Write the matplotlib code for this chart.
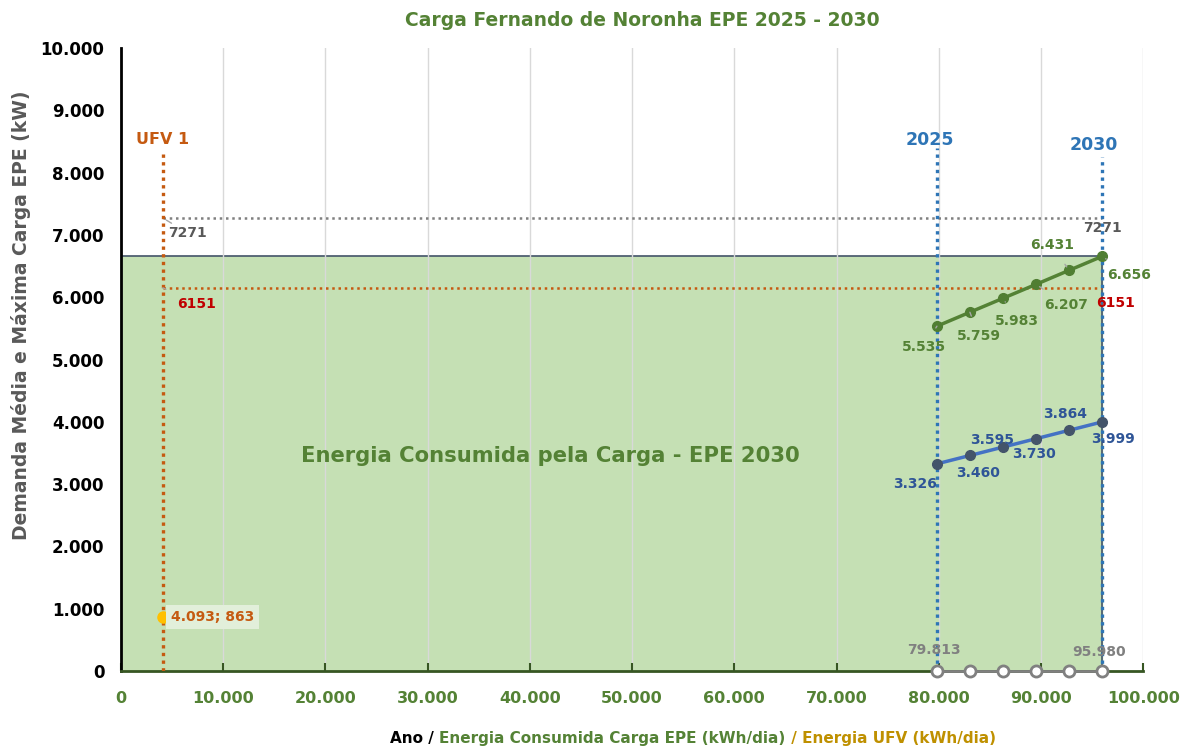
import matplotlib.pyplot as plt

plt.rcParams['font.family'] = ['DejaVu Sans']
plt.rcParams['font.weight'] = 'bold'

# dados (ano 2025 - 2030)
anos = ['2025', '2026', '2027', '2028', '2029', '2030']
energia = [79813, 83040, 86280, 89520, 92736, 95980]      # kWh/dia
dem_max = [5535, 5759, 5983, 6207, 6431, 6656]             # kW
dem_med = [3326, 3460, 3595, 3730, 3864, 3999]             # kW
ufv_x, ufv_y = 4093, 863
lim_sup = 7271
lim_inf = 6151

GREEN = '#548235'
BLUE = '#4472c4'
ORANGE = '#c55a11'
GRAY = '#808080'

fig = plt.figure(figsize=(11.86, 7.49), dpi=100)
ax = fig.add_axes([0.102, 0.104, 0.862, 0.832])
ax.set_xlim(0, 100000)
ax.set_ylim(0, 10000)

# area da energia consumida
ax.fill_between([0, energia[-1]], 0, dem_max[-1], color='#c5e0b4', zorder=0.3)
ax.plot([0, energia[-1], energia[-1]], [dem_max[-1], dem_max[-1], 0], color='#44546a', lw=1.2, zorder=0.4)

ax.set_xticks(range(0, 100001, 10000))
ax.set_yticks(range(0, 10001, 1000))
ax.grid(axis='x', color='#d9d9d9', lw=1, zorder=0.5)
ax.set_axisbelow(True)
fmt = lambda v: '{:,}'.format(int(v)).replace(',', '.')
ax.set_xticklabels([fmt(v) for v in range(0, 100001, 10000)], color=GREEN, fontsize=11.5)
ax.set_yticklabels([fmt(v) for v in range(0, 10001, 1000)], color='black', fontsize=12)
ax.tick_params(axis='x', direction='in', length=6, width=1.5, color='#375623', pad=14)
ax.tick_params(axis='y', length=0, pad=12)
for s in ['top', 'right']:
    ax.spines[s].set_visible(False)
ax.spines['left'].set_linewidth(2)
ax.spines['left'].set_color('black')
ax.spines['bottom'].set_linewidth(2)
ax.spines['bottom'].set_color('#375623')

# linhas verticais dos anos e UFV
dots = (0, (1, 1.3))
ax.plot([energia[0], energia[0]], [0, 8400], color='#2e75b6', lw=2.4, ls=dots, zorder=3)
ax.plot([energia[-1], energia[-1]], [0, 8250], color='#2e75b6', lw=2.4, ls=dots, zorder=3)
ax.annotate(anos[0], (energia[0], 8530), xytext=(-7, 0), textcoords='offset pixels',
            color='#2e75b6', fontsize=12.5, ha='center', va='center')
ax.annotate(anos[-1], (energia[-1], 8450), xytext=(-8, 0), textcoords='offset pixels',
            color='#2e75b6', fontsize=12.5, ha='center', va='center')
ax.plot([ufv_x, ufv_x], [0, 8300], color=ORANGE, lw=2.4, ls=dots, zorder=3)
ax.text(ufv_x, 8530, 'UFV 1', color=ORANGE, fontsize=11.5, ha='center', va='center')

# limites horizontais
ax.plot([ufv_x, energia[-1]], [lim_sup, lim_sup], color=GRAY, lw=1.8, ls=(0, (1, 1.5)), zorder=2)
ax.plot([ufv_x, energia[-1]], [lim_inf, lim_inf], color=ORANGE, lw=1.8, ls=(0, (1, 1.5)), zorder=2)

def lab(x, y, txt, dx, dy, color, lead=True, **kw):
    ax.annotate(txt, (x, y), xytext=(dx, dy), textcoords='offset pixels', color=color,
                fontsize=10, ha='center', va='center', zorder=6,
                arrowprops=dict(arrowstyle='-', color='#a6a6a6', lw=1, shrinkA=8, shrinkB=3) if lead else None, **kw)

lab(ufv_x, lim_sup, str(lim_sup), 25, -15, '#595959')
lab(energia[-1], lim_sup, str(lim_sup), 0, -10, '#595959', lead=False)
lab(ufv_x, lim_inf, str(lim_inf), 34, -16, '#c00000')
lab(energia[-1], lim_inf, str(lim_inf), 13, -15, '#c00000', lead=False)

# series
ax.plot(energia, dem_max, color=GREEN, lw=2.5, marker='o', ms=7, mfc='#507e32', mec='#507e32', zorder=5)
ax.plot(energia, dem_med, color=BLUE, lw=2.5, marker='o', ms=7, mfc='#44546a', mec='#44546a', zorder=5)
ax.plot(energia, [0] * len(energia), color=GRAY, lw=2, marker='o', ms=8, mfc='white', mec=GRAY, mew=2,
        zorder=5, clip_on=False)

off_max = [(-13, -21), (9, -24), (14, -23), (30, -21), (-17, 25), (27, -19)]
off_med = [(-22, -20), (8, -18), (-11, 7), (-2, -15), (-4, 16), (11, -17)]
for x, y, (dx, dy) in zip(energia, dem_max, off_max):
    lab(x, y, fmt(y), dx, dy, GREEN)
for x, y, (dx, dy) in zip(energia, dem_med, off_med):
    lab(x, y, fmt(y), dx, dy, '#2f5597', lead=False)
lab(energia[0], 0, fmt(energia[0]), -3, 21, GRAY, lead=False)
lab(energia[-1], 0, fmt(energia[-1]), -3, 19, GRAY, lead=False)

# ponto UFV
ax.plot(ufv_x, ufv_y, 'o', color='#ffc000', ms=8, zorder=6)
lab(ufv_x, ufv_y, '4.093; 863', 50, 0, ORANGE, lead=False,
    bbox=dict(boxstyle='square,pad=0.35', fc='#e2efda', ec='none'))

ax.text(42000, 3450, 'Energia Consumida pela Carga - EPE 2030', color=GREEN, fontsize=15.2,
        ha='center', va='center', zorder=6)

ax.set_ylabel('Demanda Média e Máxima Carga EPE (kW)', color='#595959', fontsize=13.5, fontweight='bold')
ax.yaxis.set_label_coords(-0.088, 0.571)
fig.text(0.542, 0.973, 'Carga Fernando de Noronha EPE 2025 - 2030', color=GREEN, fontsize=13.5,
         ha='center', va='center')

# titulo do eixo x em tres cores
parts = [('Ano / ', 'black'), ('Energia Consumida Carga EPE (kWh/dia)', GREEN),
         (' / Energia UFV (kWh/dia)', '#bf9000')]
fig.canvas.draw()
r = fig.canvas.get_renderer()
texts = [fig.text(0, 0.014, t, color=c, fontsize=11, va='center') for t, c in parts]
widths = [t.get_window_extent(r).width for t in texts]
x0 = 693 - sum(widths) / 2
for t, w in zip(texts, widths):
    t.set_x(x0 / fig.bbox.width)
    x0 += w

fig.savefig('out.png', dpi=100)
